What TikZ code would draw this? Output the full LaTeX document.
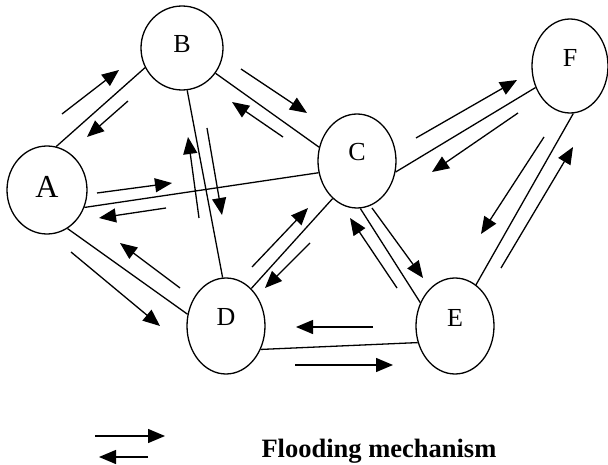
\documentclass[tikz,border=0pt]{standalone}
\usepackage{fontspec}
\setmainfont{Liberation Serif}
\usetikzlibrary{arrows.meta,shapes.geometric}

\begin{document}
\begin{tikzpicture}[x=1pt,y=-1pt,
  station/.style={draw, ellipse, line width=1.3pt, inner sep=0pt, font=\fontsize{26}{26}\selectfont},
  link/.style={line width=1.3pt},
  flood/.style={line width=1.3pt, -{Triangle[length=17pt,width=14pt]}}]
% Fix the page to the picture size
\useasboundingbox (0,0) rectangle (608,465);

% The stations
\node[station, minimum width=80pt, minimum height=88pt, text depth=6pt, font=\fontsize{32}{32}\selectfont] (A) at (47,190) {A};
\node[station, minimum width=82pt, minimum height=84pt, text depth=8pt] (B) at (182,48) {B};
\node[station, minimum width=78pt, minimum height=94pt, text depth=18pt] (C) at (357,161) {C};
\node[station, minimum width=76pt, minimum height=94pt, text depth=16pt] (F) at (570,66) {F};
\node[station, minimum width=78pt, minimum height=96pt, text depth=18pt] (D) at (226,326) {D};
\node[station, minimum width=78pt, minimum height=96pt, text depth=16pt] (E) at (455,326) {E};

% The links
\draw[link] (A.78) -- (B.208);
\draw[link] (A.-25) -- (C.197);
\draw[link] (A.-62) -- (D.163);
\draw[link] (B.-83) -- (D.94);
\draw[link] (B.-37) -- (C.160);
\draw[link] (C.-16) -- (F.212);
\draw[link] (C.237) -- (D.56);
\draw[link] (C.-86) -- (E.146);
\draw[link] (E.63) -- (F.-86);
\draw[link] (D.-34) -- (E.204);

% Messages sent both ways along each link
\draw[flood] (62,114) -- (119,70);   % A to B
\draw[flood] (128,101) -- (87,137);  % B to A
\draw[flood] (241,69) -- (307,113);  % B to C
\draw[flood] (283,137) -- (232,102); % C to B
\draw[flood] (97,193) -- (172,183);  % A to C
\draw[flood] (166,208) -- (99,218);  % C to A
\draw[flood] (199,218) -- (188,137); % D to B
\draw[flood] (207,128) -- (222,215); % B to D
\draw[flood] (416,138) -- (517,80);  % C to F
\draw[flood] (518,113) -- (432,172); % F to C
\draw[flood] (544,137) -- (481,234); % F to E
\draw[flood] (501,268) -- (573,147); % E to F
\draw[flood] (71,252) -- (160,326);  % A to D
\draw[flood] (180,288) -- (120,243); % D to A
\draw[flood] (252,267) -- (308,208); % D to C
\draw[flood] (310,243) -- (265,288); % C to D
\draw[flood] (372,208) -- (423,278); % C to E
\draw[flood] (397,288) -- (350,218); % E to C
\draw[flood] (373,327) -- (296,327); % E to D
\draw[flood] (295,365) -- (393,365); % D to E

% Legend
\draw[flood] (95,436) -- (165,436);
\draw[flood] (148,457) -- (99,457);
\node[anchor=base west, font=\bfseries\fontsize{26.5}{30}\selectfont] (legend) at (258,457) {Flooding mechanism};
\end{tikzpicture}
\end{document}
